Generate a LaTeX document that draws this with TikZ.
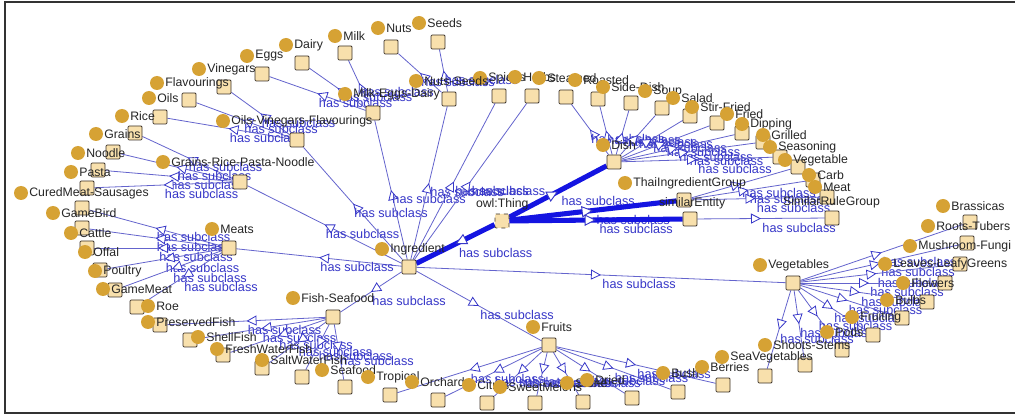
\documentclass[tikz,border=0pt]{standalone}
\usepackage{fontspec}
\setmainfont{Liberation Sans}
\usetikzlibrary{arrows.meta,decorations.markings}
\pgfdeclarelayer{paper}
\pgfdeclarelayer{links}
\pgfsetlayers{paper,links,main}
\definecolor{boxfill}{RGB}{248,224,172}
\definecolor{boxedge}{RGB}{60,50,40}
\definecolor{dotfill}{RGB}{214,162,52}
\definecolor{linkthin}{RGB}{100,100,205}
\definecolor{linkthick}{RGB}{20,20,225}
\definecolor{linktext}{RGB}{55,55,200}
\tikzset{
  cls/.style={draw=boxedge, fill=boxfill, minimum size=10.5pt, inner sep=0pt, line width=0.6pt, rounded corners=0.8pt},
  rootcls/.style={cls, dashed},
  dot/.style={circle, fill=dotfill, minimum size=10.5pt, inner sep=0pt},
  tag/.style={font=\fontsize{9.2}{10}\selectfont, text=black!85, inner sep=0.6pt, anchor=west},
  hslab/.style={pos=0.5, anchor=west, xshift=0.8pt, yshift=-6.75pt, inner sep=0pt,
    font=\fontsize{9.5}{10}\selectfont, text=linktext},
  sub/.style={draw=linkthin, line width=0.6pt, postaction={decorate},
    decoration={markings, mark=at position 0.5 with
      {\arrow{Triangle[fill=white, color=linktext, length=7.5pt, width=7.5pt, line width=0.6pt]}}}},
  subroot/.style={draw=linkthick, line width=3.8pt, postaction={decorate},
    decoration={markings, mark=at position 0.5 with
      {\arrow{Triangle[fill=white, color=linktext, length=8.5pt, width=8.5pt, line width=0.7pt]}}}},
}
\newcommand\clab[3]{\node[dot] (d#1) at (#2) {}; \node[tag] (t#1) at (d#1.east) {#3};}
\begin{document}
\begin{tikzpicture}[x=0.75pt, y=-0.75pt]
\useasboundingbox (0,0) rectangle (1015,417);
\begin{pgfonlayer}{paper}
\fill[white] (0,0) rectangle (1015,417);
\draw[line width=1.5pt, black!80] (1015,2) -- (5,2) -- (5,413) -- (1015,413);
\end{pgfonlayer}

% class boxes of the hierarchy
\node[rootcls] (thing) at (502,221) {};
\node[cls] (ingr) at (409,267) {};
\node[cls] (dish) at (614,162) {};
\node[cls] (tig) at (684,200) {};
\node[cls] (sim) at (690,219) {};
\node[cls] (rule) at (832,218) {};
\node[cls] (veg) at (793,283) {};
\node[cls] (fruits) at (549,345) {};
\node[cls] (fish) at (333,317) {};
\node[cls] (meats) at (229,248) {};
\node[cls] (grpn) at (240,182) {};
\node[cls] (ovf) at (297,140) {};
\node[cls] (med) at (373,113) {};
\node[cls] (ns) at (449,99) {};
\node[cls] (spices) at (499,96) {};
\node[cls] (herbs) at (532,96) {};
\foreach \n/\x/\y in {milk/345/53, eggs/262/74, dairy/302/63, nuts/391/47, seeds/438/42,
  vinegars/224/87, flavourings/189/100, oils/160/117,
  rice/135/133, grains/113/152, noodle/98/170, pasta/87/188,
  gamebird/82/208, cattle/82/228, offal/87/248, poultry/100/270, gamemeat/115/290, curedmeat/137/307,
  roe/160/325, preserved/190/340, shellfish/223/355, freshwater/262/368, saltwater/302/377, seafood/345/387,
  tropical/390/395, orchard/438/400, citrus/487/403, melons/535/403, stone/583/402, dried/632/398, bush/678/392, berries/723/385,
  brassicas/970/222, roots/967/243, mushroom/960/264, leaves/945/283, flowers/927/302, bulbs/902/318,
  fruiting/873/335, pods/842/350, shoots/805/365, seaveg/765/376,
  steamed/566/97, roasted/598/99, sidedish/631/103, soup/662/108, salad/690/116, stirfried/717/123,
  fried/742/133, dipping/763/142, grilled/780/157,
  vegetable/798/167, carb/813/180, meat/827/197}
  \node[cls] (\n) at (\x,\y) {};

% subclass links
\begin{pgfonlayer}{links}
\foreach \c in {ingr, dish, tig, sim}
  \draw[subroot] (thing) -- node[hslab] {has subclass} (\c);
\foreach \c in {veg, fruits, fish, meats, grpn, ovf, med, ns, spices, herbs}
  \draw[sub] (ingr) -- node[hslab] {has subclass} (\c);
\foreach \c in {milk, eggs, dairy}
  \draw[sub] (med) -- node[hslab] {has subclass} (\c);
\foreach \c in {nuts, seeds}
  \draw[sub] (ns) -- node[hslab] {has subclass} (\c);
\foreach \c in {vinegars, flavourings, oils}
  \draw[sub] (ovf) -- node[hslab] {has subclass} (\c);
\foreach \c in {rice, grains, noodle, pasta}
  \draw[sub] (grpn) -- node[hslab] {has subclass} (\c);
\foreach \c in {gamebird, cattle, offal, poultry, gamemeat, curedmeat}
  \draw[sub] (meats) -- node[hslab] {has subclass} (\c);
\foreach \c in {roe, preserved, shellfish, freshwater, saltwater, seafood}
  \draw[sub] (fish) -- node[hslab] {has subclass} (\c);
\foreach \c in {tropical, orchard, citrus, melons, stone, dried, bush, berries}
  \draw[sub] (fruits) -- node[hslab] {has subclass} (\c);
\foreach \c in {brassicas, roots, mushroom, leaves, flowers, bulbs, fruiting, pods, shoots, seaveg}
  \draw[sub] (veg) -- node[hslab] {has subclass} (\c);
\foreach \c in {steamed, roasted, sidedish, soup, salad, stirfried, fried, dipping, grilled}
  \draw[sub] (dish) -- node[hslab] {has subclass} (\c);
\foreach \c in {vegetable, carb, meat}
  \draw[sub] (tig) -- node[hslab] {has subclass} (\c);
\draw[sub] (sim) -- node[hslab] {has subclass} (rule);
\end{pgfonlayer}

% class names
\node[tag] (tthing) at (475,204) {owl:Thing};
\node[tag] (tsim) at (658,203) {similarEntity};
\node[tag] (trule) at (782,202) {SimilarRuleGroup};
\clab{Dairy}{286,45}{Dairy}
\clab{Eggs}{247,56}{Eggs}
\clab{Vinegars}{199,69}{Vinegars}
\clab{Flavourings}{157,83}{Flavourings}
\clab{Oils}{149,98}{Oils}
\clab{Rice}{122,116}{Rice}
\clab{Grains}{96,134}{Grains}
\clab{Noodle}{78,153}{Noodle}
\clab{Pasta}{71,172}{Pasta}
\clab{Cured}{21,193}{CuredMeat-Sausages}
\clab{GameBird}{53,213}{GameBird}
\clab{Cattle}{71,233}{Cattle}
\clab{Offal}{85,252}{Offal}
\clab{Poultry}{95,271}{Poultry}
\clab{GameMeat}{103,289}{GameMeat}
\clab{Roe}{148,306}{Roe}
\clab{Preserved}{148,322}{PreservedFish}
\clab{Shell}{198,337}{ShellFish}
\clab{Fresh}{217,349}{FreshWaterFish}
\clab{Salt}{262,360}{SaltWaterFish}
\clab{Seafood}{322,370}{Seafood}
\clab{Tropical}{368,377}{Tropical}
\clab{Orchard}{412,382}{Orchard}
\clab{Citrus}{469,385}{Citrus}
\clab{Melons}{500,387}{SweetMelons}
\clab{Stone}{567,383}{Stone}
\clab{Dried}{587,380}{Dried}
\clab{Bush}{663,373}{Bush}
\clab{Berries}{702,367}{Berries}
\clab{SeaVeg}{722,357}{SeaVegetables}
\clab{Shoots}{765,345}{Shoots-Stems}
\clab{Pods}{827,332}{Pods}
\clab{Fruiting}{852,317}{Fruiting}
\clab{Bulbs}{887,300}{Bulbs}
\clab{Flowers}{903,283}{Flowers}
\clab{Leaves}{885,264}{Leaves-LeafyGreens}
\clab{Mushroom}{910,246}{Mushroom-Fungi}
\clab{Roots}{928,226}{Roots-Tubers}
\clab{Brassicas}{943,206}{Brassicas}
\clab{Vegetables}{760,265}{Vegetables}
\clab{Spices}{480,78}{Spices}
\clab{Herbs}{515,77}{Herbs}
\clab{Steamed}{539,78}{Steamed}
\clab{Roasted}{575,80}{Roasted}
\clab{SideDish}{603,87}{Side-Dish}
\clab{Soup}{645,91}{Soup}
\clab{Salad}{673,98}{Salad}
\clab{StirFried}{692,107}{Stir-Fried}
\clab{Fried}{727,114}{Fried}
\clab{Dipping}{742,124}{Dipping}
\clab{Grilled}{763,135}{Grilled}
\clab{Seasoning}{770,147}{Seasoning}
\clab{Vegetable}{785,160}{Vegetable}
\clab{Carb}{809,175}{Carb}
\clab{Meat}{815,187}{Meat}
\clab{Seeds}{419,23}{Seeds}
\clab{Nuts}{378,28}{Nuts}
\clab{Milk}{335,36}{Milk}
\clab{MED}{345,94}{Milk-Eggs-Dairy}
\clab{NutsSeeds}{416,81}{Nuts-Seeds}
\clab{OVF}{223,121}{Oils-Vinegars-Flavourings}
\clab{GRPN}{163,162}{Grains-Rice-Pasta-Noodle}
\clab{Meats}{212,229}{Meats}
\clab{FishSea}{293,298}{Fish-Seafood}
\clab{Fruits}{533,327}{Fruits}
\clab{Ingredient}{382,249}{Ingredient}
\clab{Dish}{603,145}{Dish}
\clab{TIG}{625,183}{ThaiIngredientGroup}
\end{tikzpicture}
\end{document}
